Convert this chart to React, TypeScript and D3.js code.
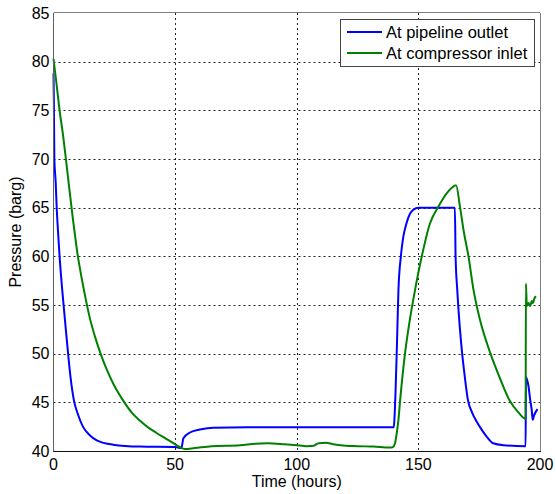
import React from "react";
import * as d3 from "d3";

const seriesNames = ["At pipeline outlet", "At compressor inlet"];
const seriesColors = ["#0000ff", "#008000"];

const xTicks = [0, 50, 100, 150, 200];
const yTicks = [40, 45, 50, 55, 60, 65, 70, 75, 80, 85];

// Pipeline outlet pressure (time hours, barg)
const outletT = [0, 0.15, 0.35, 0.9, 1.3, 1.8, 2.5, 3.5, 4.7, 6, 7, 8.4, 10, 12.1, 15, 17.8, 24.5, 35.6, 50, 52.5, 52.7, 53.4, 56.1, 60.2, 65.7, 80, 139.9, 140.2, 140.6, 141.2, 141.8, 142.8, 143.8, 145, 146.6, 148, 150, 165, 165.3, 166, 167, 168, 169, 170.4, 172, 174, 176, 178, 180.7, 185, 194.1, 194.2, 195.3, 196, 196.6, 197, 197.5, 198, 199];
const outletP = [78.8, 76, 70, 67.6, 65.1, 62.8, 60, 56.8, 53.5, 50, 47.6, 45.2, 43.8, 42.5, 41.6, 41.1, 40.65, 40.45, 40.4, 40.3, 40.4, 41.3, 41.9, 42.2, 42.4, 42.43, 42.43, 43.5, 46, 51, 56.5, 60, 62, 63.3, 64.4, 64.8, 65, 65, 60, 56.5, 52.8, 50, 47.8, 45.2, 44, 43, 42.2, 41.5, 40.8, 40.6, 40.5, 47.6, 46.6, 45.2, 44.2, 43.2, 43.6, 43.9, 44.3];

// Compressor inlet pressure (time hours, barg)
const inletT = [0, 1.3, 2.5, 4, 5.1, 6.1, 8, 9.9, 11.7, 13.5, 15, 17, 19.5, 22, 25, 28.6, 32, 35.6, 39, 42.4, 46, 49.3, 52.7, 54, 58, 65, 76.7, 83, 88, 95, 100, 104, 107, 109, 112, 115, 118, 125, 131.5, 138.4, 139.5, 140.4, 141.2, 141.8, 142.5, 144.5, 146.5, 148.6, 151.4, 154.8, 158.2, 161.7, 164, 165.5, 167.1, 168.7, 170.6, 172.7, 175.3, 179.5, 183.5, 187.7, 191, 194.1, 194.2, 194.6, 195.3, 196, 196.6, 197.1, 197.6, 198.3];
const inletP = [80.3, 77.6, 75, 72.3, 70, 67.8, 63.8, 60.2, 57.6, 55.3, 53.6, 51.8, 49.9, 48.3, 46.7, 45.2, 44, 43.1, 42.4, 41.85, 41.3, 40.8, 40.3, 40.2, 40.3, 40.5, 40.6, 40.75, 40.8, 40.7, 40.6, 40.5, 40.55, 40.8, 40.85, 40.7, 40.6, 40.5, 40.45, 40.35, 40.4, 40.8, 42, 43.2, 45.2, 50, 53.5, 56.5, 60, 63.4, 65.1, 66.5, 67.1, 67.3, 65.1, 62.5, 60, 56.5, 53.5, 50.1, 47.5, 45.1, 44, 43.3, 57.2, 54.9, 55.2, 54.9, 55.4, 55.2, 55.6, 55.9];

const W = 556;
const H = 494;
const left = 53.5;
const right = 540;
const top = 13;
const bottom = 451;

export default function App() {
  const x = d3.scaleLinear().domain([0, 200]).range([left, right]);
  const y = d3.scaleLinear().domain([40, 85]).range([bottom, top]);
  const line = d3
    .line<[number, number]>()
    .x((d) => x(d[0]))
    .y((d) => y(d[1]))
    .curve(d3.curveMonotoneX);
  const outlet = outletT.map((t, i) => [t, outletP[i]] as [number, number]);
  const inlet = inletT.map((t, i) => [t, inletP[i]] as [number, number]);
  const font = "'Liberation Sans', Arial, sans-serif";

  return (
    <svg
      width={W}
      height={H}
      style={{ position: "absolute", left: 0, top: 0, background: "#fff" }}
      fontFamily={font}
    >
      <rect x={0} y={0} width={W} height={H} fill="#fff" />
      {/* grid */}
      {xTicks.slice(1, -1).map((t) => (
        <line
          key={"gx" + t}
          x1={Math.round(x(t)) + 0.5}
          x2={Math.round(x(t)) + 0.5}
          y1={top}
          y2={bottom}
          stroke="#222"
          strokeWidth={1}
          strokeDasharray="2,3"
        />
      ))}
      {yTicks.slice(1, -1).map((t) => (
        <line
          key={"gy" + t}
          x1={left}
          x2={right}
          y1={Math.round(y(t)) + 0.5}
          y2={Math.round(y(t)) + 0.5}
          stroke="#222"
          strokeWidth={1}
          strokeDasharray="2,3"
        />
      ))}
      {/* data */}
      <g fill="none" strokeWidth={2} strokeLinejoin="round">
        <path d={line(outlet) ?? ""} stroke={seriesColors[0]} />
        <path d={line(inlet) ?? ""} stroke={seriesColors[1]} />
      </g>
      {/* box */}
      <line x1={left} x2={right} y1={top - 0.5} y2={top - 0.5} stroke="#808080" strokeWidth={1} />
      <line x1={right + 0.5} x2={right + 0.5} y1={top} y2={bottom} stroke="#808080" strokeWidth={1} />
      <line x1={left} x2={left} y1={top} y2={bottom + 1} stroke="#606060" strokeWidth={1} />
      <line x1={left} x2={right + 1} y1={bottom + 0.5} y2={bottom + 0.5} stroke="#111" strokeWidth={1} />
      {/* tick labels */}
      {xTicks.map((t) => (
        <text key={"xt" + t} x={x(t)} y={469.5} textAnchor="middle" fontSize={16} fill="#000">
          {t}
        </text>
      ))}
      {yTicks.map((t) => (
        <text key={"yt" + t} x={49.5} y={y(t) + 5.8} textAnchor="end" fontSize={16} fill="#000">
          {t}
        </text>
      ))}
      {/* axis labels */}
      <text x={(left + right) / 2} y={487} textAnchor="middle" fontSize={16} fill="#000">
        Time (hours)
      </text>
      <text
        transform={`translate(20.5, ${(top + bottom) / 2}) rotate(-90)`}
        textAnchor="middle"
        fontSize={16}
        fill="#000"
      >
        Pressure (barg)
      </text>
      {/* legend */}
      <rect x={340.5} y={19.5} width={194} height={47} fill="#fff" stroke="#444" strokeWidth={1} />
      {seriesNames.map((name, i) => (
        <g key={name}>
          <line
            x1={347}
            x2={382}
            y1={32 + i * 21}
            y2={32 + i * 21}
            stroke={seriesColors[i]}
            strokeWidth={2}
          />
          <text x={386} y={37.8 + i * 21} fontSize={16.5} fill="#000">
            {name}
          </text>
        </g>
      ))}
    </svg>
  );
}
